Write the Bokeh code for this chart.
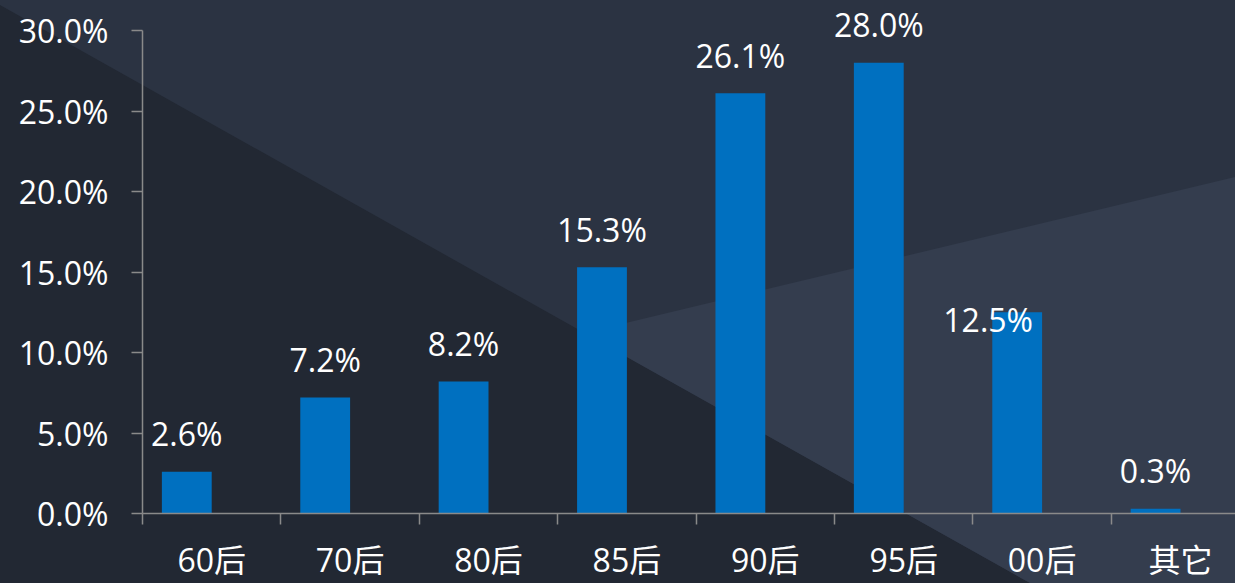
import numpy as np
from urllib.parse import quote
from bokeh.plotting import figure
from bokeh.models import (ColumnDataSource, Range1d, FixedTicker, PrintfTickFormatter,
                          CustomJSTickFormatter)
from bokeh.transform import dodge
from bokeh.core.properties import value
from bokeh.embed import file_html
from bokeh.resources import INLINE

# ---- data ----
categories = ["60后", "70后", "80后", "85后", "90后", "95后", "00后", "其它"]
shares = [2.6, 7.2, 8.2, 15.3, 26.1, 28.0, 12.5, 0.3]
value_labels = [f"{v:.1f}%" for v in shares]
y_ticks = [0, 5, 10, 15, 20, 25, 30]
# manual label nudges (screen px) as in the original
label_dx = [0, 0, 0, 0, 0, 0, -29, 0]
label_dy = [-38, -38, -38, -38, -38, -38, 7, -38]

W, H = 1235, 583
FONT = "'Open Sans', 'Noto Sans CJK SC', sans-serif"
AX = "#8a8a8a"
PX_PER_UNIT = 483 / 30.0
TOP = 5

centers = list(np.arange(len(categories)) + 0.5)
src = ColumnDataSource(dict(xc=centers, v=shares, lab=value_labels,
                            dx=label_dx, dy=label_dy, cat=categories))

# background shapes (decoration) as inline svg
bg_svg = (
    f"<svg xmlns='http://www.w3.org/2000/svg' width='{W}' height='{H}'>"
    f"<rect x='0' y='0' width='{W}' height='{H}' fill='#2b3342'/>"
    f"<polygon points='0,5 1030,{H} 0,{H}' fill='#222833'/>"
    f"<polygon points='584,333 {W},177 {W},{H} 1030,{H}' fill='#343d4e'/>"
    "</svg>"
)

p = figure(width=W, height=H, output_backend="svg", toolbar_location=None,
           x_range=Range1d(0, (W - 142) / 138.4),
           y_range=Range1d(0, 30 + (30 - TOP) / PX_PER_UNIT),
           min_border_left=142, min_border_right=0, min_border_top=TOP,
           min_border_bottom=70)
p.styles = {"background-image": f"url(\"data:image/svg+xml,{quote(bg_svg)}\")",
            "background-repeat": "no-repeat"}
p.background_fill_color = None
p.border_fill_color = None
p.outline_line_color = None
p.grid.visible = False

p.vbar(x=dodge("xc", -0.18), top="v", width=0.36, bottom=0, source=src,
       fill_color="#0070c0", line_color=None)

p.text(x=dodge("xc", -0.18), y="v", text="lab", source=src,
       x_offset="dx", y_offset="dy",
       text_align="center", text_baseline="alphabetic",
       text_color="#ffffff", text_font=value("Open Sans"), text_font_size="32px")

# x axis: labels at category centres, tick marks at boundaries
xa = p.xaxis[0]
xa.ticker = FixedTicker(ticks=centers, minor_ticks=list(range(len(categories) + 1)))
xa.formatter = CustomJSTickFormatter(args=dict(cats=categories),
                                     code="return cats[Math.floor(tick)];")
xa.major_tick_out = 0
xa.major_tick_in = 0
xa.minor_tick_out = 11
xa.minor_tick_in = 0
xa.minor_tick_line_color = AX
xa.minor_tick_line_width = 1.5
xa.axis_line_color = AX
xa.axis_line_width = 1.5
xa.major_label_standoff = 13
xa.major_label_text_color = "#ffffff"
xa.major_label_text_font = FONT
xa.major_label_text_font_size = "32px"

ya = p.yaxis[0]
ya.ticker = FixedTicker(ticks=y_ticks, minor_ticks=[])
ya.formatter = PrintfTickFormatter(format="%.1f%%")
ya.bounds = (0, 30)
ya.major_tick_out = 11
ya.major_tick_in = 0
ya.major_tick_line_color = AX
ya.major_tick_line_width = 1.5
ya.minor_tick_line_color = None
ya.axis_line_color = AX
ya.axis_line_width = 1.5
ya.major_label_standoff = 23
ya.major_label_text_color = "#ffffff"
ya.major_label_text_font = FONT
ya.major_label_text_font_size = "32px"

open("out.html", "w").write(file_html(p, INLINE))
